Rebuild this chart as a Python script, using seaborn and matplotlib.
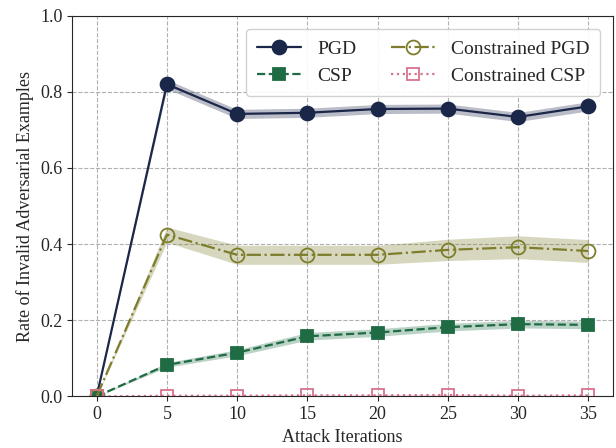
import numpy as np
import pandas as pd
import matplotlib
matplotlib.use('Agg')
import matplotlib.pyplot as plt
import seaborn as sns

iters = [0, 5, 10, 15, 20, 25, 30, 35]
pgd = [0.0, 0.820, 0.742, 0.745, 0.755, 0.756, 0.734, 0.762]
pgd_std = [0.0, 0.012, 0.012, 0.012, 0.012, 0.012, 0.012, 0.012]
csp = [0.0, 0.083, 0.115, 0.158, 0.168, 0.182, 0.190, 0.188]
csp_std = [0.0, 0.006, 0.008, 0.010, 0.010, 0.010, 0.010, 0.010]
cpgd = [0.0, 0.425, 0.372, 0.372, 0.372, 0.385, 0.392, 0.382]
cpgd_std = [0.0, 0.020, 0.025, 0.025, 0.025, 0.028, 0.030, 0.030]
ccsp = [0.0, 0.002, 0.002, 0.003, 0.003, 0.004, 0.002, 0.003]
ccsp_std = [0.0, 0.001, 0.001, 0.001, 0.001, 0.001, 0.001, 0.001]

sns.set_style('ticks')
plt.rcParams['font.family'] = ['Liberation Serif', 'DejaVu Serif']
plt.rcParams['font.size'] = 14

fig, ax = plt.subplots(figsize=(6.16, 4.48), dpi=100)

series = [
    ('PGD', pgd, pgd_std, '#1b2749', '-', 'o', '#1b2749', 10),
    ('CSP', csp, csp_std, '#1e6b44', '--', 's', '#1e6b44', 9),
    ('Constrained PGD', cpgd, cpgd_std, '#7d7d2c', '-.', 'o', 'none', 10),
    ('Constrained CSP', ccsp, ccsp_std, '#d9728c', ':', 's', 'none', 9),
]

for name, vals, std, col, ls, mk, mfc, ms in series:
    v = np.array(vals)
    s = np.array(std)
    ax.fill_between(iters, v - s, v + s, color=col, alpha=0.3, lw=0)
    sns.lineplot(x=iters, y=vals, ax=ax, color=col, linestyle=ls, marker=mk,
                 markersize=ms, markerfacecolor=mfc, markeredgecolor=col,
                 markeredgewidth=1.3, lw=1.6, label=name)

ax.set_ylim(0, 1.0)
ax.set_xticks(iters)
ax.set_yticks([0.0, 0.2, 0.4, 0.6, 0.8, 1.0])
ax.grid(True, linestyle='--', color='#b0b0b0', lw=0.8)
ax.set_xlabel('Attack Iterations', fontsize=13, labelpad=4)
ax.set_ylabel('Rate of Invalid Adversarial Examples', fontsize=13)
ax.tick_params(labelsize=13)
ax.legend(ncol=2, loc='upper right', fontsize=14, frameon=True, framealpha=0.9,
          handlelength=2.3, columnspacing=1.8, borderpad=0.55, labelspacing=0.5,
          bbox_to_anchor=(0.995, 0.99))

plt.subplots_adjust(left=0.117, right=0.995, top=0.965, bottom=0.115)
plt.savefig('out.png', dpi=100)
